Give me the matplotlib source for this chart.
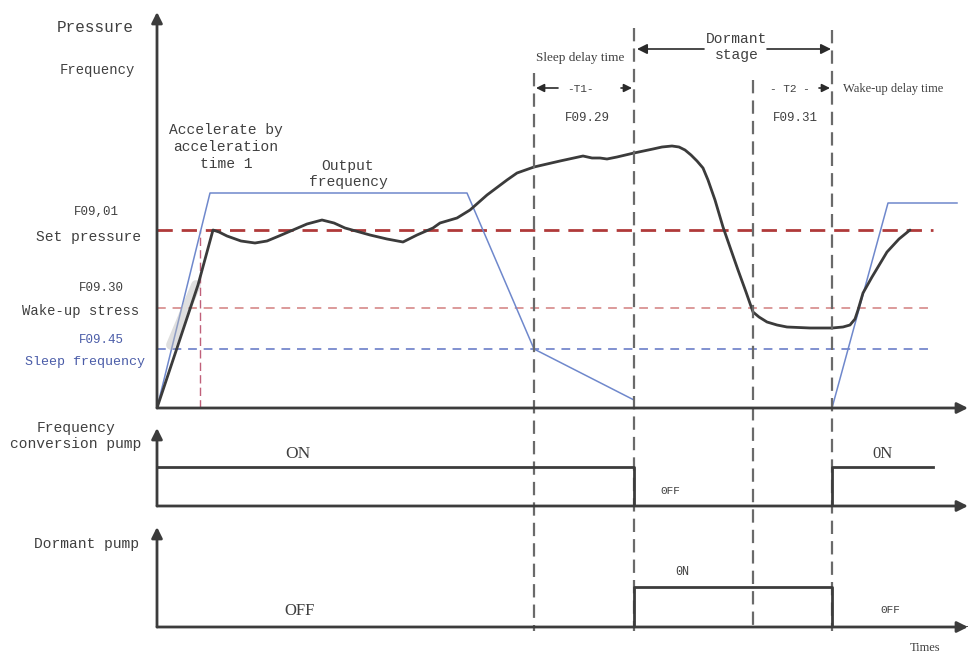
import matplotlib
matplotlib.use("Agg")
import matplotlib.pyplot as plt
from matplotlib.transforms import blended_transform_factory

# ---------------- data (time units, value units) ----------------
pressure_t = [0, 41, 56, 62, 70, 84, 98, 110, 122, 136, 150, 165, 177, 188, 213, 230, 246,
              260, 276, 283, 300, 313, 330, 350, 360, 377, 403, 426, 435, 443, 450, 460,
              477, 496, 505, 515, 522, 528, 534, 540, 546, 551, 558, 566, 574, 581, 589,
              596, 602, 610, 620, 630, 653, 675, 686, 693, 698, 701, 706, 715, 730, 742, 753]
pressure_v = [0, 123, 178, 176, 172, 167, 165, 167, 172, 178, 184, 188, 185, 180, 173, 169, 166,
              173, 180, 185, 190, 198, 213, 228, 235, 241, 247, 252, 250, 250, 249, 251,
              255, 259, 261, 262, 261, 258, 253, 247, 240, 228, 208, 181, 158, 138, 116,
              96, 91, 86, 83, 81, 80, 80, 81, 83, 89, 98, 115, 131, 156, 169, 178]

freq_run_t = [0, 53, 310, 377, 477]
freq_run_v = [0, 215, 215, 59, 8]
freq_wake_t = [675, 731, 800]
freq_wake_v = [0, 205, 205]

set_pressure = 178
wake_stress = 100
sleep_freq = 59
level_end = 776
accel_t = 43

event_t = [377, 477, 596, 675]          # sleep delay start, sleep, T2 start, wake

pump1_t = [0, 477, 477, 675, 675, 776]
pump1_s = [1, 1, 0, 0, 1, 1]
pump2_t = [0, 477, 477, 675, 675, 811]
pump2_s = [0, 0, 1, 1, 0, 0]

T_MAX = 811
V_MAX = 396

# ---------------- figure ----------------
W, H = 970, 655
fig = plt.figure(figsize=(9.7, 6.55), dpi=100)
fig.patch.set_facecolor("white")

def fx(px):
    return px / W

def fy(py):
    return 1 - py / H

def P(px, py):
    return (fx(px), fy(py))

X0, X1 = 157, 968
def add_panel(ytop, ybot, ymax):
    a = fig.add_axes([fx(X0), fy(ybot), fx(X1) - fx(X0), fy(ytop) - fy(ybot)])
    a.set_xlim(0, T_MAX)
    a.set_ylim(0, ymax)
    a.axis("off")
    return a

ax = add_panel(12, 408, V_MAX)
ax1 = add_panel(428, 506, 2.0)
ax2 = add_panel(527, 627, 2.5)

AXC = "#3c3c3c"
TXT = "#404040"
BLUE_T = "#4a5ca8"

# axis arrows
for a in (ax, ax1, ax2):
    a.annotate("", xy=(0, 1), xytext=(0, 0), xycoords="axes fraction",
               arrowprops=dict(arrowstyle="-|>", color=AXC, lw=2, mutation_scale=16,
                               shrinkA=0, shrinkB=0))
    a.annotate("", xy=(1, 0), xytext=(0, 0), xycoords="axes fraction",
               arrowprops=dict(arrowstyle="-|>", color=AXC, lw=2, mutation_scale=16,
                               shrinkA=0, shrinkB=0))

# horizontal reference levels
ax.plot([0, level_end], [set_pressure] * 2, color="#b03a3a", lw=2.0, dashes=(5.5, 3.2))
ax.plot([0, level_end], [wake_stress] * 2, color="#dc9a9a", lw=1.4, dashes=(4.5, 3.5))
ax.plot([0, level_end], [sleep_freq] * 2, color="#8090d0", lw=1.4, dashes=(4.5, 3.5))
ax.plot([accel_t, accel_t], [0, set_pressure], color="#c0607a", lw=1.0, dashes=(6, 3))

# output frequency
ax.plot(freq_run_t, freq_run_v, color="#6f88cc", lw=1.1)
ax.plot(freq_wake_t, freq_wake_v, color="#6f88cc", lw=1.1)

# blurred smear artifact along the ramp
ax.plot([pressure_t[0] + 14, pressure_t[1] - 2], [63, 123], color="#b8b8b8",
        lw=7, alpha=0.45, solid_capstyle="round")

# pressure curve
ax.plot(pressure_t, pressure_v, color="#3b3b3b", lw=2.0, solid_joinstyle="round",
        solid_capstyle="round")

# pump signals
ax1.plot(pump1_t, pump1_s, color=AXC, lw=2.0)
ax2.plot(pump2_t, pump2_s, color=AXC, lw=2.0)

# vertical dashed event lines through all panels
tb = blended_transform_factory(ax.transData, fig.transFigure)
tops = [73, 28, 80, 30]
for t, top in zip(event_t, tops):
    ax.plot([t, t], [fy(top), fy(631)], transform=tb, color="#6a6a6a", lw=1.6,
            dashes=(6, 3.2), clip_on=False)

# dormant stage arrows
arr = dict(arrowstyle="-|>", color="#2a2a2a", lw=1.2, mutation_scale=15, shrinkA=0, shrinkB=0)
ax.annotate("", xy=(event_t[1] + 3, fy(49)), xytext=(event_t[1] + 70, fy(49)),
            xycoords=tb, textcoords=tb, arrowprops=arr)
ax.annotate("", xy=(event_t[3] - 1, fy(49)), xytext=(event_t[3] - 65, fy(49)),
            xycoords=tb, textcoords=tb, arrowprops=arr)
# T1 / T2 arrows
arr2 = dict(arrowstyle="-|>", color="#2a2a2a", lw=1.2, mutation_scale=12, shrinkA=0, shrinkB=0)
ax.annotate("", xy=(event_t[0] + 2, fy(88)), xytext=(event_t[0] + 24, fy(88)),
            xycoords=tb, textcoords=tb, arrowprops=arr2)
ax.annotate("", xy=(event_t[1] - 2, fy(88)), xytext=(event_t[1] - 13, fy(88)),
            xycoords=tb, textcoords=tb, arrowprops=arr2)
ax.annotate("", xy=(event_t[3] - 2, fy(88)), xytext=(event_t[3] - 13, fy(88)),
            xycoords=tb, textcoords=tb, arrowprops=arr2)

# ---------------- texts ----------------
MONO = "Liberation Mono"
SERIF = "Liberation Serif"

def txt(px, py, s, size=10, family=MONO, ha="center", color=TXT, **kw):
    fig.text(*P(px, py), s, fontsize=size, family=family, ha=ha, va="center",
             color=color, **kw)

txt(95, 27, "Pressure", 11.5)
txt(97, 70, "Frequency", 10)
txt(226, 147, "Accelerate by\nacceleration\ntime 1", 10.5, linespacing=1.25)
txt(348, 174, "Output\nfrequency", 10.5, linespacing=1.25)
txt(96, 212, "F09,01", 9)
txt(141, 237, "Set pressure", 10.5, ha="right")
txt(101, 288, "F09.30", 9)
txt(139, 311, "Wake-up stress", 10, ha="right")
txt(101, 340, "F09.45", 9, color=BLUE_T)
txt(145, 362, "Sleep frequency", 9.6, ha="right", color=BLUE_T)

txt(580, 58, "Sleep delay time", 9.5, family=SERIF)
txt(737, 47, "Dormant\nstage", 10.5, linespacing=1.25)
txt(580, 89, "-T1-", 8)
txt(587, 118, "F09.29", 9)
txt(790, 89, "- T2 -", 8)
txt(795, 118, "F09.31", 9)
txt(893, 89, "Wake-up delay time", 9, family=SERIF)

txt(76, 436, "Frequency\nconversion pump", 10.5, linespacing=1.25)
txt(298, 454, "ON", 12.5, family=SERIF)
txt(670, 491, "0FF", 8)
txt(883, 454, "0N", 12, family=SERIF)
txt(87, 544, "Dormant pump", 10.5)
txt(682, 572, "0N", 8.5)
txt(300, 611, "OFF", 12, family=SERIF)
txt(890, 610, "0FF", 8)
txt(925, 648, "Times", 9, family=SERIF)

fig.savefig("out.png", dpi=100, facecolor="white")
